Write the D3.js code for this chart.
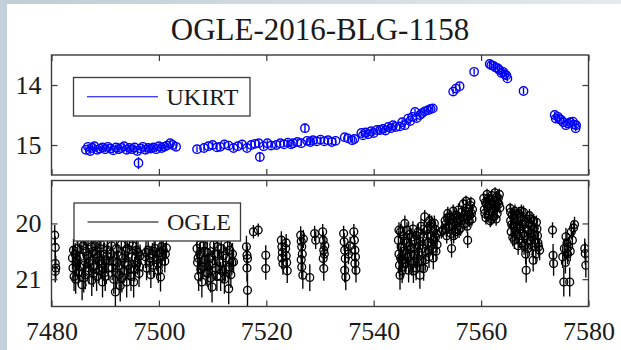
<!DOCTYPE html>
<html>
<head>
<meta charset="utf-8">
<script src="https://cdn.jsdelivr.net/npm/d3@7"></script>
<style>
  html, body { margin: 0; padding: 0; background: #fff; }
  svg { display: block; }
  text { font-family: "Liberation Serif", "Times New Roman", serif; fill: #1a1a1a; }
</style>
</head>
<body>
<svg id="chart" width="621" height="350"></svg>
<script>
// ---- data -------------------------------------------------------------
const titleText = "OGLE-2016-BLG-1158";
const xTicks = [7480, 7500, 7520, 7540, 7560, 7580];
const ukirtTicks = [14, 15];
const ogleTicks = [20, 21];
const seriesNames = ["UKIRT", "OGLE"];

// UKIRT photometry: [HJD-2450000, magnitude, error]
const ukirt = [
  [7486.4,15.08,.05],[7486.8,15.03,.05],[7487.2,15.10,.05],[7487.6,15.05,.05],[7488.0,15.02,.05],
  [7488.5,15.08,.05],[7489.0,15.06,.05],[7489.5,15.04,.05],[7490.0,15.07,.05],[7490.5,15.03,.05],
  [7491.0,15.06,.05],[7491.5,15.09,.05],[7492.0,15.04,.05],[7492.5,15.07,.05],[7493.0,15.05,.05],
  [7493.5,15.02,.05],[7494.0,15.08,.05],[7494.5,15.05,.05],[7495.0,15.07,.05],[7495.5,15.04,.05],
  [7496.0,15.10,.05],[7496.2,15.30,.10],[7496.6,15.06,.05],[7497.0,15.03,.05],[7497.5,15.08,.05],
  [7498.0,15.05,.05],[7498.5,15.06,.05],[7499.0,15.04,.05],[7499.5,15.07,.05],[7500.0,15.02,.05],
  [7500.5,15.05,.05],[7501.0,15.03,.05],[7501.5,15.01,.05],[7502.1,14.97,.05],[7502.6,15.00,.05],
  [7503.2,15.03,.05],
  [7507.1,15.07,.05],[7508.4,15.05,.05],[7509.2,15.02,.05],[7510.0,15.00,.05],[7510.8,15.04,.05],
  [7511.4,15.03,.05],[7512.2,14.99,.05],[7513.0,15.01,.05],[7513.9,15.05,.05],[7514.7,15.02,.05],
  [7515.5,14.99,.05],[7516.4,15.05,.05],[7517.2,15.00,.05],[7517.9,14.98,.05],[7518.6,14.97,.05],
  [7518.8,15.20,.08],[7519.5,15.02,.05],[7520.2,14.97,.05],[7520.9,15.01,.05],[7521.9,15.00,.05],
  [7522.6,14.97,.05],[7523.3,14.99,.05],[7524.0,14.96,.05],[7524.6,14.99,.05],[7525.0,14.97,.05],
  [7525.8,14.95,.05],[7526.5,14.97,.05],[7527.2,14.72,.08],[7527.6,14.93,.05],[7528.2,14.95,.05],
  [7528.7,14.92,.05],[7529.4,14.94,.05],[7530.1,14.91,.05],[7530.8,14.94,.05],[7531.5,14.92,.05],
  [7532.2,14.95,.05],[7532.9,14.93,.05],
  [7534.6,14.87,.05],[7535.2,14.89,.05],[7536.0,14.92,.05],[7536.4,14.90,.05],
  [7537.7,14.80,.05],[7538.0,14.84,.05],[7538.5,14.79,.05],[7539.0,14.82,.05],[7539.5,14.77,.05],
  [7540.0,14.80,.05],[7540.6,14.75,.05],[7541.2,14.75,.05],[7541.7,14.73,.05],[7542.2,14.76,.05],
  [7542.7,14.70,.05],[7543.2,14.72,.05],[7543.6,14.67,.05],[7544.1,14.70,.05],[7544.9,14.69,.05],
  [7545.3,14.62,.05],[7545.8,14.67,.05],[7546.4,14.56,.05],[7546.8,14.60,.05],[7547.2,14.53,.05],
  [7547.7,14.45,.05],[7548.0,14.55,.05],[7548.6,14.50,.05],[7549.0,14.47,.05],[7549.5,14.44,.05],
  [7550.1,14.42,.05],[7550.6,14.40,.05],[7551.0,14.39,.05],
  [7554.8,14.11,.05],[7555.3,14.06,.05],[7556.0,14.02,.05],
  [7558.7,13.78,.05],
  [7561.6,13.65,.05],[7561.9,13.67,.05],[7562.3,13.68,.05],[7562.7,13.71,.05],[7563.1,13.72,.05],
  [7563.4,13.75,.05],[7563.8,13.80,.05],[7564.1,13.78,.05],[7564.4,13.82,.05],[7564.7,13.84,.05],
  [7564.9,13.89,.05],
  [7567.9,14.10,.05],
  [7573.7,14.50,.05],[7573.9,14.56,.05],[7574.3,14.53,.05],[7574.6,14.57,.05],[7574.9,14.58,.05],
  [7575.3,14.62,.05],[7575.8,14.67,.05],[7576.2,14.64,.05],[7576.6,14.62,.05],[7577.1,14.61,.05],
  [7577.4,14.66,.05],[7577.7,14.67,.05],[7577.6,14.72,.05]
];

// OGLE photometry: [HJD-2450000, magnitude, error]
const ogle = [
  [7480.6,20.21,.18],[7480.7,20.43,.2],[7480.7,20.72,.22],[7480.8,20.80,.22],[7480.7,20.86,.2],
  // 7484-7491
  [7483.9,20.62,.2],[7484.0,20.80,.22],[7484.2,20.95,.26],[7484.4,20.55,.2],[7484.6,20.70,.22],
  [7484.9,20.45,.18],[7485.0,20.88,.24],[7485.3,20.60,.2],[7485.7,21.10,.28],[7485.9,20.40,.18],
  [7486.1,20.75,.22],[7486.3,20.92,.26],[7486.6,20.58,.2],[7486.8,20.33,.18],[7487.0,20.85,.24],
  [7487.2,20.68,.2],[7487.5,21.02,.28],[7487.7,20.50,.2],[7487.9,20.78,.22],[7488.1,20.40,.18],
  [7488.4,20.95,.26],[7488.6,20.62,.2],[7488.8,20.85,.22],[7489.0,20.45,.18],[7489.3,20.72,.22],
  [7489.5,21.05,.28],[7489.7,20.55,.2],[7489.9,20.88,.24],[7490.2,20.65,.2],[7490.4,20.48,.18],
  [7490.6,20.80,.22],
  [7484.1,20.48,.2],[7484.5,21.00,.26],[7484.8,20.65,.2],[7485.2,20.78,.22],[7485.5,20.35,.18],
  [7486.0,20.98,.26],[7486.4,20.50,.18],[7486.9,20.70,.22],[7487.4,20.42,.18],[7487.8,20.90,.24],
  [7488.3,20.55,.2],[7488.9,20.68,.2],[7489.2,20.38,.18],[7489.6,20.80,.22],[7490.0,20.95,.26],
  [7490.3,20.58,.2],
  // 7491-7496.5
  [7491.1,20.55,.2],[7491.3,20.80,.22],[7491.6,21.00,.26],[7491.9,21.23,.3],[7492.1,20.45,.18],
  [7492.3,20.70,.22],[7492.6,20.92,.26],[7492.8,21.12,.28],[7493.0,20.38,.18],[7493.3,20.62,.2],
  [7493.5,20.85,.22],[7493.8,20.50,.2],[7494.0,21.05,.28],[7494.3,20.75,.22],[7494.5,20.35,.18],
  [7494.8,20.95,.26],[7495.0,20.60,.2],[7495.3,21.05,.28],[7495.5,20.82,.22],[7495.8,20.48,.18],
  [7496.0,20.70,.22],[7496.3,20.90,.24],[7496.5,20.58,.2],
  [7491.2,20.40,.18],[7491.5,20.68,.2],[7492.0,20.88,.24],[7492.4,20.58,.2],[7493.1,20.98,.26],
  [7493.6,20.70,.22],[7494.1,20.45,.18],[7494.6,20.82,.22],[7495.1,20.40,.18],[7495.6,20.62,.2],
  [7496.1,20.52,.2],[7496.4,20.78,.22],
  // 7497.5-7501.5
  [7497.5,20.60,.2],[7497.7,20.80,.22],[7498.0,20.48,.18],[7498.2,20.70,.22],[7498.5,20.92,.24],
  [7498.8,20.55,.2],[7499.0,20.75,.22],[7499.3,20.45,.18],[7499.6,20.65,.2],[7499.9,20.85,.22],
  [7500.2,20.52,.2],[7500.3,20.96,.26],[7500.5,20.42,.18],[7500.8,20.48,.18],[7501.1,20.68,.2],
  [7501.4,20.44,.18],
  [7497.6,20.52,.2],[7498.3,20.62,.2],[7499.1,20.50,.18],[7499.8,20.72,.22],[7500.6,20.60,.2],
  [7501.2,20.55,.2],
  // 7507-7514
  [7507.1,20.45,.18],[7507.2,20.70,.22],[7507.4,20.95,.26],[7507.6,20.55,.2],[7507.8,20.82,.22],
  [7508.0,21.05,.28],[7508.3,20.40,.18],[7508.5,20.65,.2],[7508.8,20.88,.24],[7509.0,20.52,.2],
  [7509.3,20.75,.22],[7509.6,20.98,.26],[7509.9,21.14,.28],[7510.2,20.38,.18],[7510.5,20.80,.22],
  [7510.8,20.95,.26],[7511.0,20.55,.2],[7511.3,20.70,.22],[7511.6,20.45,.18],[7511.9,20.85,.22],
  [7512.2,21.00,.26],[7512.5,20.62,.2],[7512.8,20.40,.18],[7513.0,21.17,.28],[7513.1,20.78,.22],
  [7513.4,20.92,.24],[7513.7,20.55,.2],[7513.9,20.69,.2],
  [7507.3,20.62,.2],[7507.7,20.38,.18],[7508.2,20.78,.22],[7508.6,20.50,.2],[7509.1,20.90,.24],
  [7509.5,20.62,.2],[7510.0,20.72,.22],[7510.4,20.55,.2],[7510.9,20.42,.18],[7511.5,20.95,.26],
  [7512.0,20.58,.2],[7512.4,20.82,.22],[7513.2,20.48,.18],[7513.6,20.70,.22],
  // 7516-7537
  [7516.3,20.42,.2],[7516.4,20.57,.2],[7516.5,20.63,.22],[7516.4,20.80,.24],[7516.5,21.20,.3],
  [7517.6,20.15,.12],[7518.5,20.12,.12],[7519.9,20.57,.18],[7519.9,20.81,.2],
  [7522.8,20.30,.16],[7522.9,20.42,.18],[7523.0,20.52,.18],[7522.9,20.62,.2],[7523.1,20.72,.2],
  [7523.6,20.45,.18],[7523.7,20.58,.2],[7523.8,20.70,.2],[7523.9,20.85,.22],[7523.7,20.35,.16],
  [7526.4,20.21,.16],[7526.5,20.32,.16],[7526.6,20.42,.18],[7526.7,20.55,.18],[7526.5,20.65,.2],
  [7526.6,20.78,.2],[7526.8,20.93,.24],[7526.9,20.28,.16],[7528.1,20.97,.24],[7529.0,20.18,.14],
  [7529.2,20.30,.16],[7530.5,20.15,.14],[7530.6,20.30,.16],[7530.7,20.48,.18],[7530.6,20.63,.2],
  [7530.7,20.81,.22],[7530.9,20.40,.18],[7530.8,20.55,.18],
  [7534.4,20.18,.14],[7534.5,20.33,.16],[7534.6,20.48,.18],[7534.7,20.63,.2],[7534.6,20.84,.22],
  [7534.8,20.96,.24],[7535.3,20.55,.18],[7535.6,20.40,.16],[7536.3,20.15,.14],[7536.4,20.30,.16],
  [7536.5,20.48,.18],[7536.6,20.60,.2],[7536.5,20.72,.2],[7536.7,20.84,.22],
  // 7544.5-7553
  [7544.6,20.30,.16],[7544.7,20.55,.18],[7544.8,20.75,.22],[7544.9,20.93,.26],[7545.0,20.15,.14],
  [7545.1,20.42,.18],[7545.2,20.65,.2],[7545.3,20.85,.22],[7545.5,20.22,.16],[7545.6,20.50,.18],
  [7545.8,20.00,.14],[7545.9,20.70,.2],[7546.1,20.35,.16],[7546.3,20.60,.2],[7546.5,20.84,.22],
  [7546.7,20.20,.16],[7546.9,20.45,.18],[7547.1,20.72,.22],[7547.3,20.10,.14],[7547.5,20.55,.18],
  [7547.7,20.30,.16],[7547.9,20.80,.22],[7548.1,20.62,.2],[7548.3,20.15,.14],[7548.5,20.40,.18],
  [7548.6,20.93,.24],[7548.8,20.05,.14],[7549.0,20.68,.2],[7549.2,20.25,.16],[7549.3,20.81,.22],
  [7549.5,19.88,.12],[7549.7,20.50,.18],[7549.9,20.12,.14],[7550.1,20.35,.16],[7550.3,20.60,.2],
  [7550.4,19.95,.12],[7550.6,20.22,.16],[7550.8,20.00,.14],[7551.0,20.45,.18],[7551.2,20.30,.16],
  [7551.4,20.10,.14],[7551.6,20.50,.18],[7551.7,20.18,.14],[7551.8,20.38,.16],[7552.6,20.15,.12],
  [7552.9,20.12,.12],
  [7544.7,20.12,.14],[7545.0,20.62,.2],[7545.4,20.78,.22],[7545.7,20.32,.16],[7546.0,20.55,.18],
  [7546.2,20.12,.14],[7546.6,20.40,.18],[7546.8,20.68,.2],[7547.0,20.25,.16],[7547.4,20.85,.22],
  [7547.6,20.45,.18],[7548.0,20.22,.16],[7548.2,20.70,.2],[7548.4,20.52,.18],[7548.7,20.32,.16],
  [7549.1,20.45,.18],[7549.4,20.10,.14],[7549.6,20.65,.2],[7550.0,20.20,.14],[7550.2,20.48,.18],
  [7550.5,20.05,.14],[7550.7,20.40,.16],[7551.1,20.62,.2],[7551.3,20.00,.14],[7551.5,20.25,.16],
  // 7553-7558.5
  [7553.3,19.95,.12],[7553.5,20.10,.14],[7553.6,20.22,.14],[7553.8,19.82,.12],[7554.0,20.05,.14],
  [7554.2,19.88,.12],[7554.4,20.18,.14],[7554.5,20.45,.16],[7554.8,19.78,.12],[7555.0,19.98,.12],
  [7555.2,20.15,.14],[7555.4,19.85,.12],[7555.6,20.05,.14],[7555.8,19.76,.12],[7556.0,19.92,.12],
  [7556.2,20.08,.14],[7556.4,19.80,.12],[7556.7,19.65,.1],[7556.9,19.85,.12],[7557.0,20.00,.12],
  [7557.2,19.60,.1],[7557.3,19.72,.1],[7557.5,19.88,.12],[7557.5,20.30,.14],[7557.8,19.95,.12],
  [7558.0,19.68,.1],[7558.2,19.82,.12],[7558.4,19.75,.1],
  [7553.4,20.02,.12],[7553.7,19.90,.12],[7554.1,19.95,.12],[7554.6,20.05,.14],[7554.9,20.22,.14],
  [7555.1,19.90,.12],[7555.5,19.95,.12],[7555.9,20.12,.14],[7556.3,19.95,.12],[7556.6,19.90,.12],
  [7557.1,19.78,.1],[7557.4,20.05,.12],[7557.9,19.85,.12],[7558.1,19.62,.1],[7558.3,19.92,.12],
  // peak, 7560.5-7563.5
  [7560.5,19.55,.1],[7560.6,19.75,.1],[7560.8,19.62,.1],[7560.9,19.90,.12],[7561.1,19.48,.1],
  [7561.2,19.70,.1],[7561.4,19.85,.1],[7561.5,19.58,.1],[7561.7,19.95,.12],[7561.8,19.66,.1],
  [7562.0,19.50,.1],[7562.1,19.78,.1],[7562.3,19.60,.1],[7562.4,19.88,.1],[7562.6,19.45,.1],
  [7562.7,19.70,.1],[7562.9,19.52,.1],[7563.0,19.82,.1],[7563.2,19.55,.1],[7563.3,19.65,.1],
  [7563.4,19.48,.1],
  [7560.7,19.82,.1],[7561.0,19.65,.1],[7561.3,19.55,.1],[7561.6,19.78,.1],[7561.9,19.92,.12],
  [7562.2,19.68,.1],[7562.5,19.75,.1],[7562.8,19.92,.12],[7563.1,19.62,.1],[7563.5,19.72,.1],
  // 7565-7571
  [7565.4,19.73,.1],[7565.5,19.95,.12],[7565.6,20.15,.14],[7565.8,19.85,.12],[7566.0,20.05,.14],
  [7566.2,20.30,.16],[7566.3,19.78,.12],[7566.5,19.98,.12],[7566.7,20.20,.14],[7566.9,20.40,.16],
  [7567.0,19.82,.12],[7567.2,20.10,.14],[7567.4,19.90,.12],[7567.6,20.35,.16],[7567.7,20.00,.14],
  [7567.9,19.80,.12],[7568.1,20.22,.14],[7568.3,20.55,.18],[7568.4,20.84,.22],[7568.5,19.92,.12],
  [7568.7,20.45,.18],[7568.8,20.12,.14],[7569.0,19.86,.12],[7569.2,20.30,.16],[7569.4,20.05,.14],
  [7569.6,20.42,.18],[7569.7,20.66,.2],[7569.8,19.95,.12],[7570.0,20.20,.14],[7570.2,20.55,.18],
  [7570.4,20.10,.14],[7570.6,20.35,.16],[7570.9,20.48,.18],
  [7565.5,19.80,.12],[7565.7,20.02,.14],[7565.9,20.25,.16],[7566.1,19.90,.12],[7566.4,20.12,.14],
  [7566.6,19.85,.12],[7566.8,20.05,.14],[7567.1,20.28,.16],[7567.3,20.05,.14],[7567.5,19.78,.12],
  [7567.8,20.18,.14],[7568.0,20.40,.16],[7568.2,19.98,.12],[7568.6,20.30,.16],[7568.9,20.02,.14],
  [7569.1,20.18,.14],[7569.3,19.92,.12],[7569.5,20.25,.16],[7569.9,20.08,.14],[7570.1,20.35,.16],
  [7570.3,19.98,.12],[7570.5,20.22,.14],[7570.7,20.42,.16],
  // 7573-7580
  [7573.3,20.12,.14],[7573.4,20.57,.2],[7573.5,20.72,.22],
  [7575.2,20.60,.2],[7575.4,21.05,.26],[7575.5,20.45,.18],[7575.7,20.70,.2],[7575.8,20.24,.16],
  [7576.0,20.35,.16],[7576.1,20.55,.18],[7576.3,20.42,.18],[7576.5,21.05,.26],[7576.6,20.50,.18],
  [7576.8,20.15,.14],[7577.0,20.30,.16],[7577.2,20.08,.14],[7577.4,20.02,.14],
  [7579.3,20.45,.18],[7579.4,20.54,.2],[7579.5,20.75,.22]
];

// ---- layout -----------------------------------------------------------
const svg = d3.select("#chart");
const W = 621, H = 350;
const left = 51.5, right = 588.5;
const panels = [
  { name: seriesNames[0], data: ukirt, ticks: ukirtTicks, domain: [13.5, 15.5], top: 55, bottom: 175,
    color: "#0000ff", r: 4.2, sw: 1.4, legend: { x: 73.5, y: 77.5, w: 176.5, h: 38.5 }, xLabels: false },
  { name: seriesNames[1], data: ogle, ticks: ogleTicks, domain: [19.23, 21.49], top: 180.5, bottom: 306.5,
    color: "#000000", r: 3.9, sw: 1.35, legend: { x: 74, y: 203, w: 166.5, h: 38 }, xLabels: true }
];
const frameColor = "#3a3a3a";

// slide backdrop strips along the top and left edges
const defs = svg.append("defs");
const grad = defs.append("linearGradient").attr("id", "edgeGrad").attr("x1", "0").attr("x2", "1");
grad.append("stop").attr("offset", "0").attr("stop-color", "#bfcdd6");
grad.append("stop").attr("offset", "1").attr("stop-color", "#e4eaee");
svg.append("rect").attr("width", W).attr("height", H).attr("fill", "#fff");
svg.append("rect").attr("x", 0).attr("y", 0).attr("width", W).attr("height", 4).attr("fill", "url(#edgeGrad)");
svg.append("rect").attr("x", 0).attr("y", 0).attr("width", 7).attr("height", H).attr("fill", "#c2d0d9");

// title
svg.append("text")
  .attr("x", (left + right) / 2).attr("y", 40)
  .attr("text-anchor", "middle")
  .style("font-size", "31px")
  .text(titleText);

const x = d3.scaleLinear().domain([7480, 7580]).range([left, right]);

panels.forEach((p, i) => {
  const y = d3.scaleLinear().domain(p.domain).range([p.top, p.bottom]);
  const g = svg.append("g");

  const clipId = "clip" + i;
  defs.append("clipPath").attr("id", clipId)
    .append("rect").attr("x", left).attr("y", p.top).attr("width", right - left).attr("height", p.bottom - p.top);

  const marks = g.append("g").attr("clip-path", `url(#${clipId})`);

  // error bars
  marks.selectAll("line.err").data(p.data).join("line")
    .attr("class", "err")
    .attr("x1", d => x(d[0])).attr("x2", d => x(d[0]))
    .attr("y1", d => y(d[1] - d[2])).attr("y2", d => y(d[1] + d[2]))
    .attr("stroke", p.color).attr("stroke-width", p.sw);

  // open circle markers
  marks.selectAll("circle").data(p.data).join("circle")
    .attr("cx", d => x(d[0])).attr("cy", d => y(d[1]))
    .attr("r", p.r)
    .attr("fill", "none")
    .attr("stroke", p.color).attr("stroke-width", p.sw);

  // axes: inward ticks on all four sides
  const yl = d3.axisLeft(y).tickValues(p.ticks).tickSize(-6).tickPadding(10).tickFormat(d3.format("d"));
  const yr = d3.axisRight(y).tickValues(p.ticks).tickSize(-6).tickFormat("");
  const xb = d3.axisBottom(x).tickValues(xTicks).tickSize(-6).tickPadding(15)
    .tickFormat(p.xLabels ? d3.format("d") : () => "");
  const xt = d3.axisTop(x).tickValues(xTicks).tickSize(-6).tickFormat("");

  const styleAxis = sel => {
    sel.select(".domain").remove();
    sel.selectAll(".tick line").attr("stroke", frameColor).attr("stroke-width", 1.2);
    sel.selectAll(".tick text").style("font-size", "26px").style("font-family", "Liberation Serif, serif").attr("fill", "#1a1a1a");
  };
  g.append("g").attr("transform", `translate(${left},0)`).call(yl).call(styleAxis);
  g.append("g").attr("transform", `translate(${right},0)`).call(yr).call(styleAxis);
  g.append("g").attr("transform", `translate(0,${p.bottom})`).call(xb).call(styleAxis);
  g.append("g").attr("transform", `translate(0,${p.top})`).call(xt).call(styleAxis);

  // frame
  g.append("rect")
    .attr("x", left).attr("y", p.top).attr("width", right - left).attr("height", p.bottom - p.top)
    .attr("fill", "none").attr("stroke", frameColor).attr("stroke-width", 1.4);

  // legend
  const L = p.legend;
  const lg = g.append("g");
  lg.append("rect").attr("x", L.x).attr("y", L.y).attr("width", L.w).attr("height", L.h)
    .attr("fill", "#fff").attr("stroke", frameColor).attr("stroke-width", 1.3);
  const ly = L.y + L.h / 2;
  lg.append("line").attr("x1", L.x + 13.5).attr("x2", L.x + 84.5).attr("y1", ly).attr("y2", ly)
    .attr("stroke", p.color).attr("stroke-width", 1.2);
  lg.append("text").attr("x", L.x + 93).attr("y", ly + 8)
    .style("font-size", "24px").text(p.name);
});
</script>
</body>
</html>
